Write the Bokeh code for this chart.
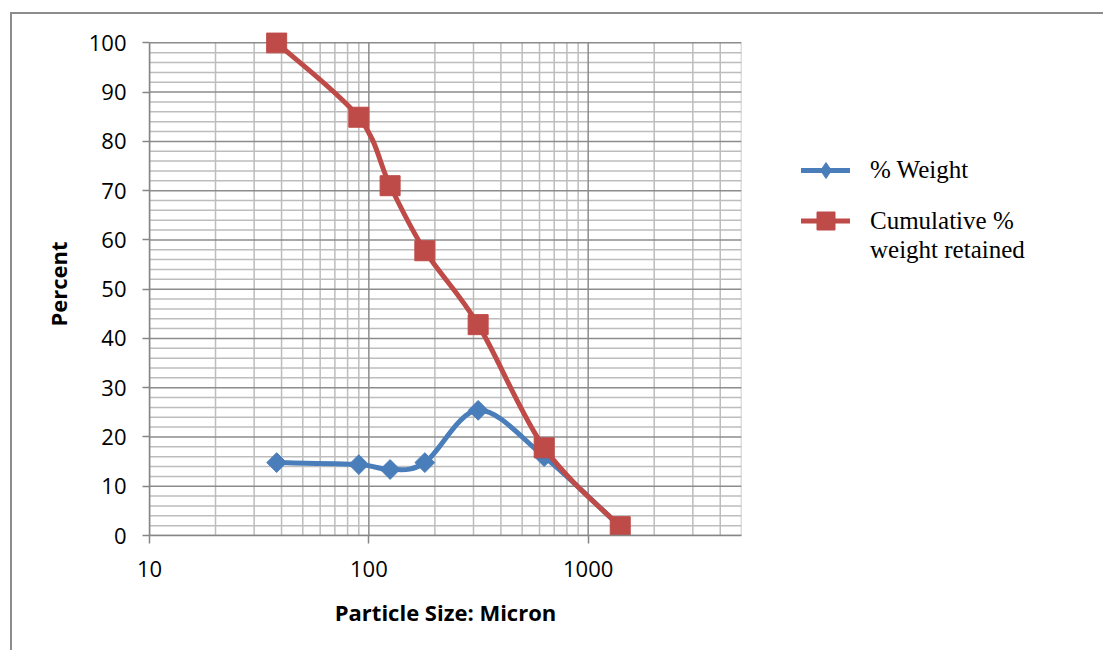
import numpy as np
from bokeh.plotting import figure
from bokeh.layouts import row
from bokeh.models import Range1d, FixedTicker, Legend, LegendItem, ColumnDataSource
from bokeh.embed import file_html
from bokeh.resources import INLINE

# ---- data ----
particle_size = [38, 90, 125, 180, 315, 630, 1400]
pct_weight = [14.8, 14.4, 13.4, 14.8, 25.4, 16.0, 1.8]
cum_retained = [100.0, 84.9, 71.0, 57.8, 42.8, 17.8, 1.8]
x_major_ticks = [10, 100, 1000]
x_tick_labels = ["10", "100", "1000"]
x_minor_ticks = [20, 30, 40, 50, 60, 70, 80, 90,
                 200, 300, 400, 500, 600, 700, 800, 900,
                 2000, 3000, 4000]
y_major_ticks = list(range(0, 101, 10))
y_minor_ticks = [v for v in range(0, 101, 2) if v % 10 != 0]
series_names = ["% Weight", "Cumulative %", "weight retained"]

X_MIN, X_MAX = 10, 5000
Y_MIN, Y_MAX = 0, 100

BLUE = "#4A7EBB"
RED = "#BE4B48"
MAJOR = "#8c8c8c"
MINOR = "#bdbdbd"

p = figure(width=731, height=636, output_backend="svg", toolbar_location=None,
           x_axis_type="log", x_range=Range1d(X_MIN, X_MAX),
           y_range=Range1d(Y_MIN, Y_MAX + 2.1),
           min_border_left=137, min_border_right=2, min_border_top=18,
           min_border_bottom=115)
p.outline_line_color = None
p.grid.visible = False

# axes
p.xaxis.ticker = FixedTicker(ticks=x_major_ticks, minor_ticks=x_minor_ticks)
p.xaxis.major_label_overrides = {t: l for t, l in zip(x_major_ticks, x_tick_labels)}
p.yaxis.ticker = FixedTicker(ticks=y_major_ticks, minor_ticks=y_minor_ticks)
p.yaxis.bounds = (Y_MIN, Y_MAX)
for ax in (p.xaxis, p.yaxis):
    ax.axis_line_color = "#868686"
    ax.axis_line_width = 1.5
    ax.major_tick_line_color = "#868686"
    ax.major_tick_line_width = 1.5
    ax.major_tick_in = 0
    ax.minor_tick_line_color = None
    ax.major_label_text_font = "Open Sans"
    ax.major_label_text_font_size = "22px"
    ax.major_label_text_color = "#000000"
    ax.axis_label_text_font = "Open Sans"
    ax.axis_label_text_font_style = "bold"
    ax.axis_label_text_font_size = "22px"
    ax.axis_label_text_color = "#000000"
p.xaxis.major_tick_out = 8
p.yaxis.major_tick_out = 7
p.xaxis.major_label_standoff = 17
p.yaxis.major_label_standoff = 16
p.xaxis.axis_label = "Particle Size: Micron"
p.yaxis.axis_label = "Percent"
p.xaxis.axis_label_standoff = 17
p.yaxis.axis_label_standoff = 13

# grid lines, limited to the 0..100 box
n_xm, n_ym = len(x_minor_ticks), len(y_minor_ticks)
p.segment(x0=x_minor_ticks, x1=x_minor_ticks, y0=[Y_MIN] * n_xm, y1=[Y_MAX] * n_xm,
          line_color=MINOR, line_width=1.5)
p.segment(x0=[X_MIN] * n_ym, x1=[X_MAX] * n_ym, y0=y_minor_ticks, y1=y_minor_ticks,
          line_color=MINOR, line_width=1.5)
p.segment(x0=[X_MAX], x1=[X_MAX], y0=[Y_MIN], y1=[Y_MAX], line_color=MINOR, line_width=1.5)
n_xM, n_yM = len(x_major_ticks), len(y_major_ticks)
p.segment(x0=x_major_ticks, x1=x_major_ticks, y0=[Y_MIN] * n_xM, y1=[Y_MAX] * n_xM,
          line_color=MAJOR, line_width=1.5)
p.segment(x0=[X_MIN] * n_yM, x1=[X_MAX] * n_yM, y0=y_major_ticks, y1=y_major_ticks,
          line_color=MAJOR, line_width=1.5)


def smooth_segments(xs, ys):
    lx = np.log10(np.asarray(xs, dtype=float))
    y = np.asarray(ys, dtype=float)
    n = len(lx)
    d = dict(x0=[], y0=[], x1=[], y1=[], cx0=[], cy0=[], cx1=[], cy1=[])
    for i in range(n - 1):
        a = i - 1 if i > 0 else i
        b = i + 2 if i + 2 < n else i + 1
        c0x = lx[i] + (lx[i + 1] - lx[a]) / 6.0
        c0y = y[i] + (y[i + 1] - y[a]) / 6.0
        c1x = lx[i + 1] - (lx[b] - lx[i]) / 6.0
        c1y = y[i + 1] - (y[b] - y[i]) / 6.0
        d["x0"].append(10 ** lx[i]); d["y0"].append(y[i])
        d["x1"].append(10 ** lx[i + 1]); d["y1"].append(y[i + 1])
        d["cx0"].append(10 ** c0x); d["cy0"].append(c0y)
        d["cx1"].append(10 ** c1x); d["cy1"].append(c1y)
    return ColumnDataSource(d)


# series 1: % Weight
p.bezier(x0="x0", y0="y0", x1="x1", y1="y1", cx0="cx0", cy0="cy0", cx1="cx1", cy1="cy1",
         source=smooth_segments(particle_size, pct_weight),
         line_color=BLUE, line_width=5, line_cap="round")
p.scatter(particle_size, pct_weight, marker="square", angle=np.pi / 4, size=14,
          fill_color=BLUE, line_color=BLUE)
# series 2: cumulative
p.bezier(x0="x0", y0="y0", x1="x1", y1="y1", cx0="cx0", cy0="cy0", cx1="cx1", cy1="cy1",
         source=smooth_segments(particle_size, cum_retained),
         line_color=RED, line_width=5, line_cap="round")
p.scatter(particle_size, cum_retained, marker="square", size=20,
          fill_color=RED, line_color=RED)

# ---- legend panel (frame aligned with the chart frame) ----
q = figure(width=360, height=636, output_backend="svg", toolbar_location=None,
           x_range=Range1d(0, 1), y_range=Range1d(0, 1),
           min_border_left=0, min_border_right=0, min_border_top=0, min_border_bottom=0)
q.axis.visible = False
q.grid.visible = False
q.outline_line_color = None

# legend proxies: same data, lying outside this panel's 0..1 ranges (not visible)
b_line = q.line(particle_size, pct_weight, line_color=BLUE, line_width=5, line_cap="round")
r_line = q.line(particle_size, cum_retained, line_color=RED, line_width=5, line_cap="round")
b_leg_mark = q.scatter(particle_size, pct_weight, marker="diamond",
                       fill_color=BLUE, line_color=BLUE)
r_leg_mark = q.scatter(particle_size, cum_retained, marker="square",
                       fill_color=RED, line_color=RED)
blank = q.line(particle_size, cum_retained, line_alpha=0)


def make_legend(items, loc, gh):
    lg = Legend(items=items, location=loc, orientation="vertical",
                label_text_font="Liberation Serif", label_text_font_size="25px",
                label_text_color="#000000", glyph_width=49, glyph_height=gh,
                label_height=30, label_standoff=20, spacing=0, padding=0, margin=0,
                border_line_color=None, background_fill_alpha=0)
    q.add_layout(lg, "center")
    return lg


make_legend([LegendItem(label=series_names[0], renderers=[b_line, b_leg_mark])], (58, 345), 40)
make_legend([LegendItem(label=series_names[1], renderers=[r_line, r_leg_mark])], (58, 292), 45)
make_legend([LegendItem(label=series_names[2], renderers=[blank])], (58, 270), 30)

layout = row(p, q, margin=(12, 0, 0, 10),
             styles={"border-top": "2px solid #8c8c8c", "border-left": "2px solid #8c8c8c"})

open("out.html", "w").write(file_html(layout, INLINE))
